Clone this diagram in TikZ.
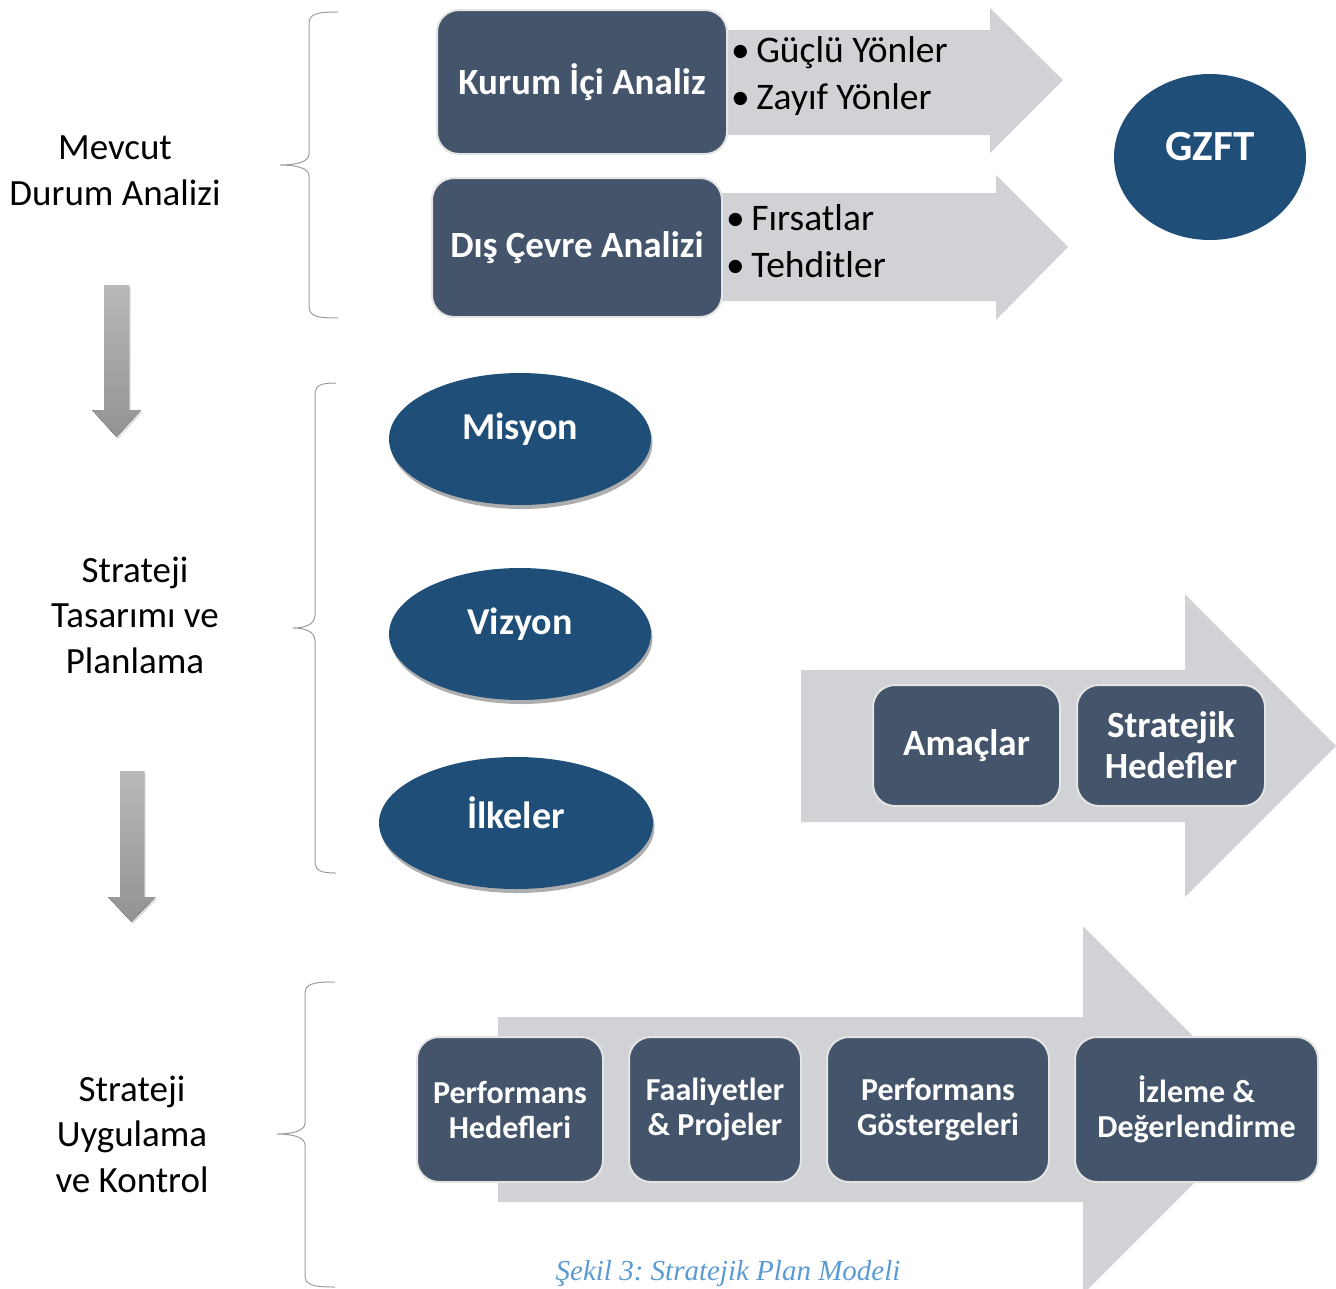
\documentclass[tikz,border=0pt]{standalone}
\usepackage{fontspec}
\setmainfont{Carlito}
\newfontfamily\capfont{Liberation Serif}
\usetikzlibrary{shapes.geometric,shadows}

\definecolor{slate}{HTML}{44546A}
\definecolor{navy}{HTML}{1F4E79}
\definecolor{arrgray}{HTML}{D1D2D6}
\definecolor{rim}{HTML}{E4E4E4}
\definecolor{capblue}{HTML}{5B9BD5}
\definecolor{bracegray}{HTML}{9C9C9C}

\tikzset{
  slatebox/.style={draw=rim, line width=2pt, fill=slate, rounded corners=22pt,
    text=white, align=center, inner sep=0pt},
  boxfont/.style={font=\bfseries\fontsize{32}{35}\selectfont},
  bigboxfont/.style={font=\bfseries\fontsize{37}{41}\selectfont},
  bandarrow/.style={fill=arrgray, draw=none},
  oval/.style={ellipse, fill=navy, draw=none, inner sep=0pt,
    drop shadow={shadow xshift=1.5pt, shadow yshift=-4pt, fill=black!70, opacity=0.45}},
  ovaltext/.style={text=white, font=\bfseries\fontsize{38}{42}\selectfont, inner sep=0pt},
  phase/.style={align=center, font=\fontsize{37}{45.5}\selectfont, inner sep=0pt},
  bullets/.style={align=left, font=\fontsize{37.5}{47}\selectfont, inner sep=0pt, anchor=west},
  brace/.style={draw=bracegray, line width=1pt},
  downarrow/.style={top color=gray!55, bottom color=gray!85, draw=none,
    drop shadow={shadow xshift=1.5pt, shadow yshift=-2pt, opacity=0.25}},
}

\begin{document}
\begin{tikzpicture}[x=1pt,y=-1pt]
\useasboundingbox (0,0) rectangle (1336,1288);

% ---------- Mevcut durum analizi ----------
\draw[brace] (338,12) .. controls (316,12) and (309,14) .. (309,24) -- (309,154)
  .. controls (309,162) and (296,165) .. (280,165)
  .. controls (296,165) and (309,168) .. (309,176) -- (309,306)
  .. controls (309,316) and (316,318) .. (338,318);
\node[phase] (mevcut) at (115,171) {Mevcut\\Durum Analizi};

\fill[bandarrow] (718,30) -- (990,30) -- (990,8) -- (1063,80) -- (990,153)
  -- (990,135) -- (718,135) -- cycle;
\fill[bandarrow] (714,193) -- (996,193) -- (996,175) -- (1068,247) -- (996,320)
  -- (996,301) -- (714,301) -- cycle;

\node[slatebox, bigboxfont, minimum width=290, minimum height=144] (ic) at (582,82) {Kurum İçi Analiz};
\node[slatebox, bigboxfont, minimum width=290, minimum height=139] (dis) at (577,247.5) {Dış Çevre Analizi};

\node[bullets] (gz) at (731,76) {•\hspace{-2pt} Güçlü Yönler\\•\hspace{-2pt} Zayıf Yönler};
\node[bullets] (ft) at (726,241) {•\hspace{-2pt} Fırsatlar\\•\hspace{-2pt} Tehditler};

\node[ellipse, fill=navy, minimum width=192, minimum height=166, inner sep=0pt] (gzft) at (1210,157) {};
\node[ovaltext, font=\bfseries\fontsize{43}{48}\selectfont] (gzftt) at ([yshift=10pt]gzft.center) {GZFT};

% ---------- Strateji tasarimi ve planlama ----------
\fill[downarrow] (104,285) -- (129,285) -- (129,410) -- (141,410) -- (116.5,437)
  -- (92,410) -- (104,410) -- cycle;
\draw[brace] (336,383) .. controls (321,383) and (315,385) .. (315,395) -- (315,615)
  .. controls (315,624) and (306,628) .. (293,628)
  .. controls (306,628) and (315,632) .. (315,641) -- (315,861)
  .. controls (315,871) and (321,873) .. (336,873);
\node[phase] (tasarim) at (135,615) {Strateji\\Tasarımı ve\\Planlama};

\node[oval, minimum width=262, minimum height=132] (misyon) at (520,439) {};
\node[ovaltext] (misyont) at ([yshift=10pt]misyon.center) {Misyon};
\node[oval, minimum width=262, minimum height=132] (vizyon) at (520,634) {};
\node[ovaltext] (vizyont) at ([yshift=10pt]vizyon.center) {Vizyon};
\node[oval, minimum width=274, minimum height=132] (ilkeler) at (516,823) {};
\node[ovaltext] (ilkelert) at ([yshift=10pt]ilkeler.center) {İlkeler};

\fill[bandarrow] (801,670) -- (1185,670) -- (1185,594) -- (1336,746) -- (1185,897)
  -- (1185,822) -- (801,822) -- cycle;
\node[slatebox, bigboxfont, minimum width=187, minimum height=121] (amac) at (966.5,745.5) {Amaçlar};
\node[slatebox, bigboxfont, minimum width=188, minimum height=121] (hedef) at (1171,745.5) {Stratejik\\Hedefler};

% ---------- Strateji uygulama ve kontrol ----------
\fill[downarrow] (120,771) -- (144,771) -- (144,897) -- (155.5,897) -- (131.5,922)
  -- (108,897) -- (120,897) -- cycle;
\draw[brace] (335,982) .. controls (312,982) and (305,984) .. (305,994) -- (305,1123)
  .. controls (305,1131) and (292,1134) .. (277,1134)
  .. controls (292,1134) and (305,1137) .. (305,1145) -- (305,1275)
  .. controls (305,1285) and (312,1287) .. (335,1287);
\node[phase] (uygulama) at (132,1134) {Strateji\\Uygulama\\ve Kontrol};

\fill[bandarrow] (498,1017) -- (1083,1017) -- (1083,926) -- (1267,1110) -- (1083,1294)
  -- (1083,1202) -- (498,1202) -- cycle;

\node[slatebox, boxfont, minimum width=186, minimum height=145] (ph) at (510,1109.5) {Performans\\Hedefleri};
\node[slatebox, boxfont, minimum width=172, minimum height=145] (fp) at (715,1109.5) {Faaliyetler\\\& Projeler};
\node[slatebox, boxfont, minimum width=222, minimum height=145] (pg) at (938,1109.5) {Performans\\Göstergeleri};
\node[slatebox, boxfont, minimum width=243, minimum height=145] (id) at (1196.5,1109.5) {İzleme \&\\Değerlendirme};

\node[font=\capfont\itshape\fontsize{29}{32}\selectfont, text=capblue, inner sep=0pt] (caption) at (728,1274) {\frenchspacing Şekil 3: Stratejik Plan Modeli};
\end{tikzpicture}
\end{document}
